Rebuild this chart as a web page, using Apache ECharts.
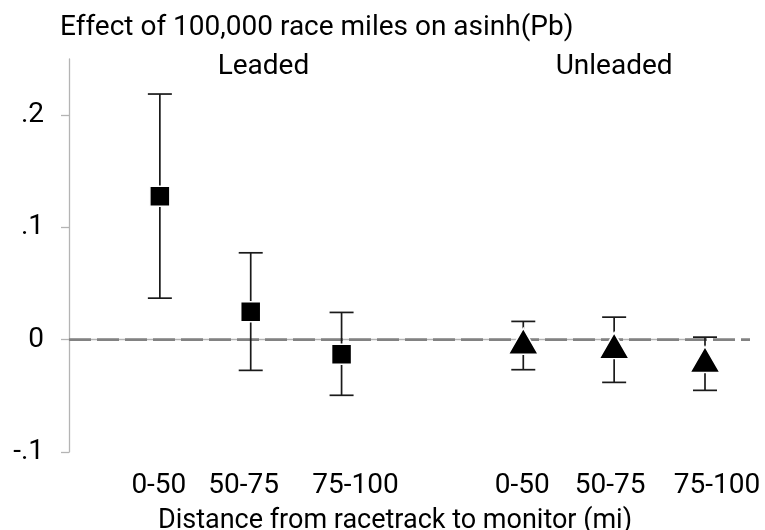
<!DOCTYPE html>
<html>
<head>
<meta charset="utf-8">
<script src="https://cdn.jsdelivr.net/npm/echarts@6/dist/echarts.min.js"></script>
<style>
  html, body { margin: 0; padding: 0; background: #fff; }
  #chart { width: 765px; height: 530px; }
</style>
</head>
<body>
<div id="chart"></div>
<script>
// Positions on the horizontal axis (gap at 4 separates the two fuel groups)
const xTickLabels = ['', '0-50', '50-75', '75-100', '', '0-50', '50-75', '75-100'];
const yTickValues = [-0.1, 0, 0.1, 0.2];
const yTickLabels = ['-.1', '0', '.1', '.2'];

// Leaded fuel: point estimates and 95% confidence bounds
const leadedPos = [1, 2, 3];
const leadedEst = [0.1277, 0.0249, -0.0129];
const leadedLow = [0.0370, -0.0273, -0.0495];
const leadedHigh = [0.2188, 0.0774, 0.0243];

// Unleaded fuel: point estimates and 95% confidence bounds
const unleadedPos = [5, 6, 7];
const unleadedEst = [-0.0052, -0.0091, -0.0215];
const unleadedLow = [-0.0267, -0.0380, -0.0451];
const unleadedHigh = [0.0163, 0.0201, 0.0023];

// Group headings placed in data coordinates
const groupNames = ['Leaded', 'Unleaded'];
const groupPos = [2.14, 6];
const groupY = 0.243;

const FONT = 'Roboto';
const FS = 28;
const AXIS_GRAY = '#b4b4b4';
const INK = '#1a1a1a';

// horizontal nudge (px) applied to each category label, by tick index
const labelNudge = [0, -1, -7, 14, 0, -1, -4, 12];

const chart = echarts.init(document.getElementById('chart'), null, { renderer: 'canvas' });

const ciData = leadedPos.map((p, i) => [p, leadedLow[i], leadedHigh[i]])
  .concat(unleadedPos.map((p, i) => [p, unleadedLow[i], unleadedHigh[i]]));

function renderCI(params, api) {
  const x = api.value(0);
  const lo = api.coord([x, api.value(1)]);
  const hi = api.coord([x, api.value(2)]);
  const half = 12;
  const style = { stroke: INK, lineWidth: 1.7 };
  return {
    type: 'group',
    children: [
      { type: 'line', shape: { x1: lo[0], y1: lo[1], x2: hi[0], y2: hi[1] }, style },
      { type: 'line', shape: { x1: lo[0] - half, y1: lo[1], x2: lo[0] + half, y2: lo[1] }, style },
      { type: 'line', shape: { x1: hi[0] - half, y1: hi[1], x2: hi[0] + half, y2: hi[1] }, style }
    ]
  };
}

// rich styles that shift a centred label left or right
const xRich = {};
labelNudge.forEach((d, i) => {
  xRich['t' + i] = {
    fontFamily: FONT,
    fontSize: FS,
    color: '#000',
    padding: d >= 0 ? [0, 0, 0, 2 * d] : [0, -2 * d, 0, 0]
  };
});

const option = {
  backgroundColor: '#fff',
  animation: false,
  title: {
    text: 'Effect of 100,000 race miles on asinh(Pb)',
    left: 60,
    top: 14,
    padding: 0,
    textStyle: { fontFamily: FONT, fontSize: FS, fontWeight: 'normal', color: '#000' }
  },
  graphic: [{
    type: 'text',
    x: 395,
    y: 521,
    style: {
      text: 'Distance from racetrack to monitor (mi)',
      font: 'normal 27px ' + FONT,
      fill: '#000',
      textAlign: 'center',
      textVerticalAlign: 'middle'
    }
  }],
  grid: [
    { left: 69, right: 60, top: 59, bottom: 78, containLabel: false },
    { left: 69, right: 15, top: 59, bottom: 78, containLabel: false }
  ],
  xAxis: [{
    type: 'value',
    gridIndex: 0,
    min: 0,
    max: 7,
    interval: 1,
    offset: 12,
    axisLine: { show: true, lineStyle: { color: AXIS_GRAY, width: 1.3 } },
    axisTick: { show: false },
    splitLine: { show: false },
    axisLabel: {
      show: true,
      showMinLabel: true,
      showMaxLabel: true,
      margin: 8,
      fontFamily: FONT,
      fontSize: FS,
      color: '#000',
      rich: xRich,
      formatter: v => {
        const i = Math.round(v);
        const t = xTickLabels[i] || '';
        return t ? '{t' + i + '|' + t + '}' : '';
      }
    }
  }, {
    type: 'value',
    gridIndex: 1,
    min: 0,
    max: 7.5,
    show: false
  }],
  yAxis: [{
    type: 'value',
    gridIndex: 0,
    min: -0.1,
    max: 0.25,
    interval: 0.1,
    offset: 13,
    axisLine: { show: true, lineStyle: { color: AXIS_GRAY, width: 1.3 } },
    axisTick: { show: true, length: 8, lineStyle: { color: AXIS_GRAY, width: 1.3 } },
    splitLine: { show: false },
    axisLabel: {
      show: true,
      showMaxLabel: false,
      margin: 12,
      fontFamily: FONT,
      fontSize: FS,
      color: '#000',
      formatter: v => {
        const i = yTickValues.findIndex(t => Math.abs(t - v) < 1e-9);
        return i >= 0 ? yTickLabels[i] : '';
      }
    }
  }, {
    type: 'value',
    gridIndex: 1,
    min: -0.1,
    max: 0.25,
    show: false
  }],
  series: [
    {
      // zero reference line across the plot region
      type: 'line',
      xAxisIndex: 1,
      yAxisIndex: 1,
      data: [[0, 0], [7.5, 0]],
      symbol: 'none',
      silent: true,
      z: 1,
      lineStyle: { color: '#828282', width: 2.7, type: [22, 6] }
    },
    {
      type: 'custom',
      xAxisIndex: 0,
      yAxisIndex: 0,
      renderItem: renderCI,
      data: ciData,
      clip: false,
      z: 2
    },
    {
      name: 'Leaded',
      type: 'scatter',
      xAxisIndex: 0,
      yAxisIndex: 0,
      data: leadedPos.map((p, i) => [p, leadedEst[i]]),
      symbol: 'rect',
      symbolSize: 20,
      itemStyle: { color: '#000', opacity: 1, borderColor: '#fff', borderWidth: 1.5 },
      z: 3
    },
    {
      name: 'Unleaded',
      type: 'scatter',
      xAxisIndex: 0,
      yAxisIndex: 0,
      data: unleadedPos.map((p, i) => [p, unleadedEst[i]]),
      symbol: 'triangle',
      symbolSize: [30, 26],
      symbolOffset: [0, -4.3],
      itemStyle: { color: '#000', opacity: 1, borderColor: '#fff', borderWidth: 1.5 },
      z: 3
    },
    {
      // group headings
      type: 'scatter',
      xAxisIndex: 0,
      yAxisIndex: 0,
      data: groupNames.map((n, i) => ({ value: [groupPos[i], groupY], name: n })),
      symbolSize: 0,
      clip: false,
      silent: true,
      itemStyle: { opacity: 1 },
      label: {
        show: true,
        position: 'inside',
        formatter: p => p.name,
        fontFamily: FONT,
        fontSize: FS,
        color: '#000'
      },
      z: 4
    }
  ]
};

chart.setOption(option);
</script>
</body>
</html>
